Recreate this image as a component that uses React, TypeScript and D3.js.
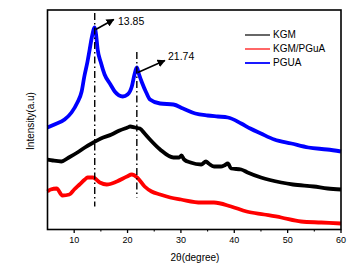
import React from "react";
import * as d3 from "d3";

const pguaX = [5, 6.3, 8.2, 9.5, 10.6, 11.4, 11.9, 12.5, 12.9, 13.3, 13.85, 14.1, 14.4, 15, 15.7, 16.8, 17.6, 19.1, 20, 20.8, 21.3, 21.74, 22.1, 22.7, 23.5, 24.2, 26.1, 28.6, 30.4, 32.7, 35, 36.9, 38.8, 41.3, 43, 45, 47.5, 50.7, 53.9, 57.4, 60];
const pguaY = [102, 105, 110, 117, 127, 138, 153, 168, 180, 192, 202, 195, 180, 167, 155, 145, 138, 133, 135, 143, 155, 162, 156, 147, 137, 130, 126, 125, 121, 116, 114, 113, 112, 106, 101, 96, 90, 86, 82, 80, 78];

const kgmX = [5, 6, 7.6, 9, 10.6, 12, 13.6, 15, 17, 18.5, 20, 20.5, 21.4, 22.3, 23.2, 24.2, 26.1, 28.6, 29.7, 30.1, 30.6, 31.8, 33.8, 34.7, 35.2, 36.2, 37.5, 38.1, 38.8, 39.4, 41.3, 42.5, 45, 48.8, 51, 54.9, 57.5, 60];
const kgmY = [70, 69, 68, 72, 77, 82, 87, 91, 95, 99, 102, 103, 102, 101, 96, 90, 80, 72, 72, 74, 70, 67, 65, 68, 66, 63, 63, 64, 66, 61, 60, 57, 52, 47, 45, 43, 41, 40];

const blendX = [5, 5.6, 6.7, 7.8, 9.1, 10, 11, 12, 12.5, 13.5, 14.8, 16.1, 18, 19.9, 20.8, 21.8, 23.2, 24.5, 26.1, 28, 30, 33.8, 36.2, 39.4, 42.3, 45.6, 48.8, 52.5, 56.3, 60];
const blendY = [38, 40, 41, 34, 35, 40, 45, 50, 52, 52, 47, 45, 48, 53, 55, 52, 43, 38, 35, 32, 30, 27, 27, 23, 18, 15, 12, 8, 7, 6];

const xTicks = [10, 20, 30, 40, 50, 60];
const xMinorTicks = [15, 25, 35, 45, 55];
const peakPositions = [13.85, 21.74];
const peakLabels = ["13.85", "21.74"];
const legendNames = ["KGM", "KGM/PGuA", "PGUA"];
const legendColors = ["#000000", "#ff0000", "#0000ff"];

const W = 361, H = 269;
const L = 47.5, R = 341, T = 10, B = 229.5;
const FONT = "'Liberation Sans', Arial, sans-serif";

export default function App() {
  const x = d3.scaleLinear().domain([5, 60]).range([L, R]);
  const y = d3.scaleLinear().domain([0, B - T]).range([B, T]);
  const line = d3.line<[number, number]>().x(d => x(d[0])).y(d => y(d[1])).curve(d3.curveMonotoneX);
  const series = [
    { xs: blendX, ys: blendY, color: "#ff0000" },
    { xs: kgmX, ys: kgmY, color: "#000000" },
    { xs: pguaX, ys: pguaY, color: "#0000ff" },
  ];
  const peakBottoms = [23, 32];
  const arrows = [
    { x1: x(13.85) + 1, y1: y(pguaY[10]) + 2, x2: x(13.85) + 19, y2: y(pguaY[10]) - 8, tx: 118, ty: 22 },
    { x1: x(21.74) + 1, y1: y(pguaY[21]) + 5, x2: x(21.74) + 28, y2: y(pguaY[21]) - 7, tx: 168, ty: 57 },
  ];
  return (
    <svg width={W} height={H} style={{ position: "absolute", left: 0, top: 0, background: "#fff" }}>
      <defs>
        <marker id="ah" viewBox="0 0 10 10" refX="9" refY="5" markerWidth="5" markerHeight="5" orient="auto">
          <path d="M0,0 L10,5 L0,10 z" fill="#000" />
        </marker>
      </defs>
      <rect x={0} y={0} width={W} height={H} fill="#fff" />
      {series.map((s, i) => (
        <path key={i} d={line(s.xs.map((v, j) => [v, s.ys[j]] as [number, number])) || ""} fill="none" stroke={s.color} strokeWidth={3.8} strokeLinejoin="round" />
      ))}
      {peakPositions.map((p, i) => (
        <line key={i} x1={x(p)} x2={x(p)} y1={i === 0 ? 13 : 52} y2={y(peakBottoms[i])} stroke="#000" strokeWidth={1.4} strokeDasharray="7 3 1.5 3" />
      ))}
      {arrows.map((a, i) => (
        <g key={i}>
          <line x1={a.x1} y1={a.y1} x2={a.x2} y2={a.y2} stroke="#000" strokeWidth={1.6} markerEnd="url(#ah)" />
          <text x={a.tx} y={a.ty} fontFamily={FONT} fontSize={10.5} dominantBaseline="middle">{peakLabels[i]}</text>
        </g>
      ))}
      <rect x={L} y={T} width={R - L} height={B - T} fill="none" stroke="#000" strokeWidth={1.6} />
      {xTicks.map(t => (
        <g key={t}>
          <line x1={x(t)} x2={x(t)} y1={B} y2={B + 3.5} stroke="#000" strokeWidth={1.3} />
          <text x={x(t)} y={241} fontFamily={FONT} fontSize={9} textAnchor="middle" dominantBaseline="middle">{t}</text>
        </g>
      ))}
      {xMinorTicks.map(t => (
        <line key={t} x1={x(t)} x2={x(t)} y1={B} y2={B + 2} stroke="#000" strokeWidth={1.1} />
      ))}
      <text x={195} y={258} fontFamily={FONT} fontSize={10} textAnchor="middle" dominantBaseline="middle">2θ(degree)</text>
      <text transform="translate(31.5,121) rotate(-90)" fontFamily={FONT} fontSize={10} textAnchor="middle" dominantBaseline="middle">Intensity(a.u)</text>
      {legendNames.map((n, i) => (
        <g key={n}>
          <line x1={245} x2={270} y1={35 + i * 14} y2={35 + i * 14} stroke={legendColors[i]} strokeWidth={i === 2 ? 1.8 : 1.2} />
          <text x={273} y={35 + i * 14} fontFamily={FONT} fontSize={10} dominantBaseline="middle">{n}</text>
        </g>
      ))}
    </svg>
  );
}
